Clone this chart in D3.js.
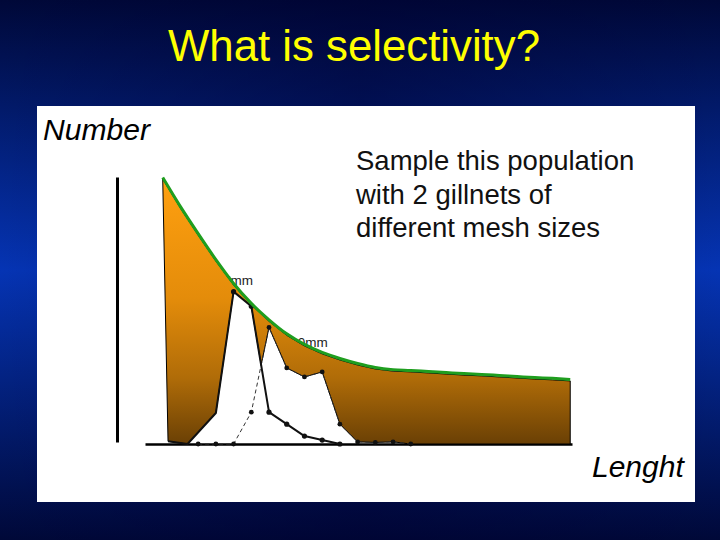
<!DOCTYPE html>
<html>
<head>
<meta charset="utf-8">
<script src="https://cdn.jsdelivr.net/npm/d3@7"></script>
<style>
  html, body { margin: 0; padding: 0; background: #000a40; }
  svg { display: block; }
</style>
</head>
<body>
<svg id="chart" width="720" height="540"></svg>
<script>
// population (number at length class)
const popLength = [1, 2, 3, 4, 5, 6, 7, 8, 9, 10, 11, 12, 13, 14, 15, 16, 17, 18, 19, 20, 21, 22, 23, 24];
const popNumber = [100, 89, 78.8, 69, 60, 52.5, 46.3, 41, 37, 34, 31.7, 29.8, 28.3, 27.5, 27.2, 26.8, 26.4, 26, 25.7, 25.3, 24.9, 24.5, 24.2, 23.8];

// gillnet 1 (7mm) catch
const net1Length = [1.3, 2.4, 4, 5, 6, 7, 8, 9, 10, 11];
const net1Catch  = [1, 0, 11.7, 57.5, 52, 12, 7.5, 3, 1.5, 0];

// gillnet 2 catch
const net2Length = [3, 4, 5, 6, 7, 8, 9, 10, 11, 12, 13, 14, 15];
const net2Catch  = [0, 0, 0, 12, 44, 28.7, 25.3, 27.2, 7.5, 0.8, 0.6, 0.8, 0];

const netLabels = [
  {text: "7mm", length: 4.4, number: 60},
  {text: "10mm", length: 8.2, number: 36.5}
];

const title = "What is selectivity?";
const noteLines = ["Sample this population", "with 2 gillnets of", "different mesh sizes"];

const svg = d3.select("#chart");
const defs = svg.append("defs");

// background
const bg = defs.append("linearGradient").attr("id", "bgV")
  .attr("x1", 0).attr("y1", 0).attr("x2", 0).attr("y2", 1);
bg.append("stop").attr("offset", "0%").attr("stop-color", "#000838");
bg.append("stop").attr("offset", "50%").attr("stop-color", "#0534b4");
bg.append("stop").attr("offset", "100%").attr("stop-color", "#000838");
const bgH = defs.append("linearGradient").attr("id", "bgH")
  .attr("x1", 0).attr("y1", 0).attr("x2", 1).attr("y2", 0);
bgH.append("stop").attr("offset", "0%").attr("stop-color", "#000030").attr("stop-opacity", 0);
bgH.append("stop").attr("offset", "50%").attr("stop-color", "#000030").attr("stop-opacity", 0.4);
bgH.append("stop").attr("offset", "100%").attr("stop-color", "#000030").attr("stop-opacity", 0);

svg.append("rect").attr("width", 720).attr("height", 540).attr("fill", "url(#bgV)");
svg.append("rect").attr("width", 720).attr("height", 540).attr("fill", "url(#bgH)");

svg.append("text")
  .attr("x", 168).attr("y", 61)
  .attr("textLength", 372).attr("lengthAdjust", "spacingAndGlyphs")
  .style("font-family", "Liberation Sans, Arial, sans-serif")
  .style("font-size", "45px")
  .attr("fill", "#ffff00")
  .text(title);

// white panel
svg.append("rect")
  .attr("x", 37).attr("y", 106).attr("width", 658).attr("height", 396)
  .attr("fill", "#ffffff");

const x = d3.scaleLinear().domain([0, 24.1]).range([145, 572]);
const y = d3.scaleLinear().domain([0, 100]).range([444, 179]);

// axes
svg.append("g")
  .attr("transform", "translate(117,-2)")
  .call(d3.axisLeft(y).ticks(0).tickSizeOuter(0))
  .select(".domain").attr("stroke", "#000").attr("stroke-width", 3);

svg.append("g")
  .attr("transform", `translate(0,${y(0)})`)
  .call(d3.axisBottom(x).ticks(0).tickSizeOuter(0))
  .select(".domain").attr("stroke", "#000").attr("stroke-width", 2.5);

svg.append("text")
  .attr("x", 43).attr("y", 140)
  .attr("textLength", 107).attr("lengthAdjust", "spacingAndGlyphs")
  .style("font-family", "Liberation Sans, Arial, sans-serif")
  .style("font-style", "italic").style("font-size", "29px")
  .attr("fill", "#000").text("Number");

svg.append("text")
  .attr("x", 592).attr("y", 477)
  .style("font-family", "Liberation Sans, Arial, sans-serif")
  .style("font-style", "italic").style("font-size", "30px")
  .attr("fill", "#000").text("Lenght");

svg.append("g").selectAll("text")
  .data(noteLines).join("text")
  .attr("x", 356).attr("y", (d, i) => 170 + i * 33.5)
  .style("font-family", "Liberation Sans, Arial, sans-serif")
  .style("font-size", "27.5px")
  .attr("fill", "#111").text(d => d);

// net labels (partly hidden under the population area)
svg.append("g").selectAll("text")
  .data(netLabels).join("text")
  .attr("x", d => x(d.length)).attr("y", d => y(d.number))
  .style("font-family", "Liberation Sans, Arial, sans-serif")
  .style("font-size", "13.5px")
  .attr("fill", "#222").text(d => d.text);

// envelope of both catches (max), with crossing points
function valueAt(lens, vals, L) {
  if (L < lens[0] || L > lens[lens.length - 1]) return 0;
  for (let i = 0; i < lens.length - 1; i++) {
    if (L >= lens[i] && L <= lens[i + 1]) {
      const t = (L - lens[i]) / (lens[i + 1] - lens[i]);
      return vals[i] + t * (vals[i + 1] - vals[i]);
    }
  }
  return vals[lens.length - 1];
}
let xs = Array.from(new Set(net1Length.concat(net2Length, [popLength[popLength.length - 1]]))).sort((a, b) => a - b);
const crossings = [];
for (let i = 0; i < xs.length - 1; i++) {
  const a = xs[i], b = xs[i + 1];
  const da = valueAt(net1Length, net1Catch, a) - valueAt(net2Length, net2Catch, a);
  const db = valueAt(net1Length, net1Catch, b) - valueAt(net2Length, net2Catch, b);
  if (da * db < 0) crossings.push(a + da / (da - db) * (b - a));
}
xs = xs.concat(crossings).sort((a, b) => a - b);
const envelope = xs.map(L => [L, Math.max(valueAt(net1Length, net1Catch, L), valueAt(net2Length, net2Catch, L))]);

const population = popLength.map((L, i) => [L, popNumber[i]]);

const orange = defs.append("linearGradient").attr("id", "orangeFill")
  .attr("gradientUnits", "userSpaceOnUse")
  .attr("x1", 0).attr("y1", y(100)).attr("x2", 0).attr("y2", y(0));
orange.append("stop").attr("offset", "0%").attr("stop-color", "#ffa010");
orange.append("stop").attr("offset", "45%").attr("stop-color", "#e48c0a");
orange.append("stop").attr("offset", "75%").attr("stop-color", "#b06c08");
orange.append("stop").attr("offset", "100%").attr("stop-color", "#6a4005");

const line = d3.line().x(d => x(d[0])).y(d => y(d[1]));

svg.append("path")
  .attr("d", line(population.concat(envelope.slice().reverse())) + "Z")
  .attr("fill", "url(#orangeFill)")
  .attr("stroke", "#000").attr("stroke-width", 1)
  .attr("stroke-linejoin", "round");

// net 2: thin dashed
const net2 = net2Length.map((L, i) => [L, net2Catch[i]]);
svg.append("path")
  .attr("d", line(net2))
  .attr("fill", "none").attr("stroke", "#333")
  .attr("stroke-width", 1).attr("stroke-dasharray", "4,3");

// net 1: solid
const net1 = net1Length.map((L, i) => [L, net1Catch[i]]);
svg.append("path")
  .attr("d", line(net1))
  .attr("fill", "none").attr("stroke", "#111")
  .attr("stroke-width", 2).attr("stroke-linejoin", "round");

svg.append("g").selectAll("circle")
  .data(net2.filter(d => Number.isInteger(d[0]))).join("circle")
  .attr("cx", d => x(d[0])).attr("cy", d => y(d[1])).attr("r", 2.4)
  .attr("fill", "#111");

svg.append("g").selectAll("circle")
  .data(net1.filter(d => Number.isInteger(d[0]) && d[0] >= 5)).join("circle")
  .attr("cx", d => x(d[0])).attr("cy", d => y(d[1])).attr("r", 2.6)
  .attr("fill", "#111");

// population curve in green
svg.append("path")
  .attr("d", line.curve(d3.curveMonotoneX)(population))
  .attr("transform", "translate(0,-1.5)")
  .attr("fill", "none").attr("stroke", "#1f9e1f")
  .attr("stroke-width", 3).attr("stroke-linejoin", "round");
</script>
</body>
</html>
